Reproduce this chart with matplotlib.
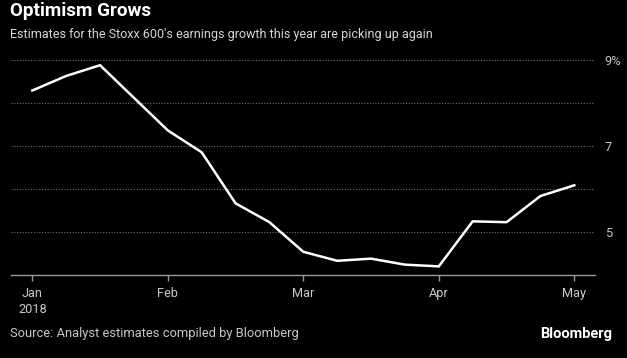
import matplotlib
matplotlib.use("Agg")
import matplotlib.pyplot as plt

# weekly estimates, Jan 2018 -> May 2018 (%)
weeks = list(range(17))
growth = [8.29, 8.63, 8.88, 8.12, 7.36, 6.85, 5.66, 5.22, 4.53,
          4.32, 4.37, 4.23, 4.19, 5.24, 5.22, 5.83, 6.08]
month_pos = [0, 4, 8, 12, 16]
month_labels = ["Jan\n2018", "Feb", "Mar", "Apr", "May"]
y_ticks = [5, 7, 9]
y_labels = ["5", "7", "9%"]

plt.rcParams["font.family"] = ["Roboto", "DejaVu Sans"]

fig = plt.figure(figsize=(6.27, 3.58), dpi=100, facecolor="black")
ax = fig.add_axes([0.0175, 0.2332, 0.9314, 0.599], facecolor="black")

ax.plot(weeks, growth, color="white", linewidth=1.8, solid_joinstyle="miter")

ax.set_xlim(-0.63, 16.61)
ax.set_ylim(4.0, 9.0)

# dotted gridlines
for y in [5, 6, 7, 8, 9]:
    ax.axhline(y, color="#6e6e6e", linewidth=0.8, linestyle=(0, (1, 1.5)), zorder=0)

for s in ["top", "right", "left"]:
    ax.spines[s].set_visible(False)
ax.spines["bottom"].set_color("#9a9a9a")
ax.spines["bottom"].set_linewidth(1)

ax.set_xticks(month_pos)
ax.set_xticklabels(month_labels, fontsize=9.2, linespacing=1.3)
ax.tick_params(axis="x", colors="#9a9a9a", length=4, width=1, pad=5, labelcolor="#c8c8c8")

ax.yaxis.tick_right()
ax.set_yticks(y_ticks)
ax.set_yticklabels(y_labels, fontsize=9.2)
ax.tick_params(axis="y", length=0, pad=7, labelcolor="#c8c8c8")

fig.text(0.016, 0.995, "Optimism Grows", color="white", fontsize=13.6,
         fontweight="bold", ha="left", va="top")
fig.text(0.016, 0.922, "Estimates for the Stoxx 600's earnings growth this year are picking up again",
         color="#d8d8d8", fontsize=9.0, ha="left", va="top")
fig.text(0.016, 0.068, "Source: Analyst estimates compiled by Bloomberg",
         color="#c8c8c8", fontsize=9.3, ha="left", va="center")
fig.text(0.977, 0.066, "Bloomberg", color="white", fontsize=10.5,
         fontweight="bold", ha="right", va="center")

fig.savefig("out.png", dpi=100, facecolor="black")
